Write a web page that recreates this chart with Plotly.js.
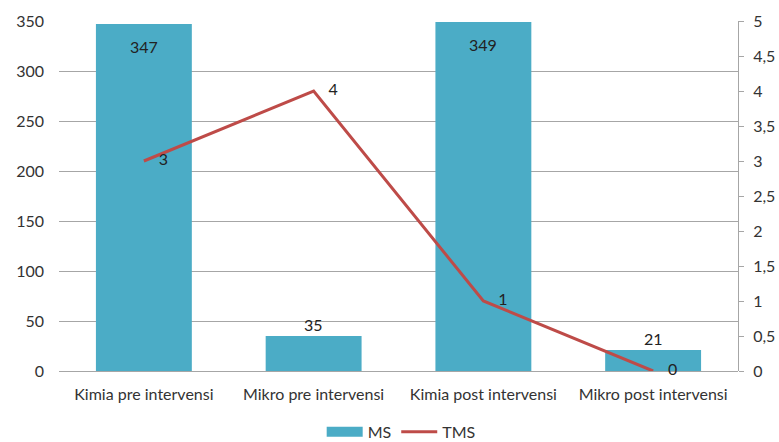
<!DOCTYPE html>
<html><head><meta charset="utf-8">
<script src="https://cdn.plot.ly/plotly-3.0.1.min.js"></script>
<style>html,body{margin:0;padding:0;background:#fff}#c{width:779px;height:442px}</style>
</head><body><div id="c"></div>
<script>
const categories = ["Kimia pre intervensi","Mikro pre intervensi","Kimia post intervensi","Mikro post intervensi"];
const msValues = [347, 35, 349, 21];
const tmsValues = [3, 4, 1, 0];
const leftTicks = [0,50,100,150,200,250,300,350];
const rightTicks = [0,0.5,1,1.5,2,2.5,3,3.5,4,4.5,5];

const font = {family: "Lato, 'Open Sans', sans-serif", size: 16, color: "#333"};
const labelFont = {family: font.family, size: 16, color: "#222"};
const msColor = "#4BACC6";
const tmsColor = "#BE4B48";

const traces = [
  {
    type: "bar", name: "MS", x: categories, y: msValues,
    marker: {color: msColor},
    showlegend: false,
    hoverinfo: "none"
  },
  {
    type: "scatter", mode: "lines", name: "MS", x: categories, y: msValues.map(() => null),
    line: {color: msColor, width: 10},
    showlegend: true, hoverinfo: "none"
  },
  {
    type: "scatter", mode: "lines+text", name: "TMS", x: categories, y: tmsValues,
    yaxis: "y2",
    line: {color: tmsColor, width: 3},
    showlegend: true,
    hoverinfo: "none"
  },
  {
    type: "scatter", mode: "markers+text", name: "TMS labels", x: categories, y: tmsValues,
    yaxis: "y2",
    marker: {size: 22, color: "rgba(0,0,0,0)"},
    text: tmsValues.map(String),
    textposition: "middle right",
    textfont: labelFont,
    cliponaxis: false,
    showlegend: false,
    hoverinfo: "none"
  }
];

const annotations = categories.map((c, i) => {
  const big = msValues[i] > 100;
  return {
    x: c, y: msValues[i], xref: "x", yref: "y",
    text: String(msValues[i]), showarrow: false,
    font: labelFont,
    yanchor: big ? "top" : "bottom",
    yshift: big ? -11 : 0
  };
});

const layout = {
  width: 779, height: 442,
  margin: {l: 59, r: 41, t: 21, b: 71},
  paper_bgcolor: "#fff", plot_bgcolor: "#fff",
  font: font,
  separators: ",.",
  bargap: 0.435,
  showlegend: true,
  annotations: annotations,
  legend: {orientation: "h", x: 0.515, xanchor: "center", xref: "container",
           y: 0.023, yanchor: "middle", yref: "container",
           font: font, itemwidth: 36, tracegroupgap: 0},
  xaxis: {
    type: "category", showgrid: false, showline: false, ticks: "",
    tickfont: font, ticklabelstandoff: 12, zeroline: false, automargin: false
  },
  yaxis: {
    range: [0, 350], tickvals: leftTicks, showgrid: true, gridcolor: "#A6A6A6", gridwidth: 1,
    showline: false, ticks: "", zeroline: true, zerolinecolor: "#A6A6A6",
    tickfont: font, ticklabelstandoff: 14, automargin: false
  },
  yaxis2: {
    overlaying: "y", side: "right", range: [0, 5], tickvals: rightTicks,
    showgrid: false, zeroline: false, showline: true, linecolor: "#A6A6A6", linewidth: 1,
    ticks: "outside", ticklen: 5, tickcolor: "#A6A6A6",
    tickfont: font, ticklabelstandoff: 6, automargin: false
  }
};

Plotly.newPlot("c", traces, layout, {displayModeBar: false, staticPlot: true});
</script></body></html>
